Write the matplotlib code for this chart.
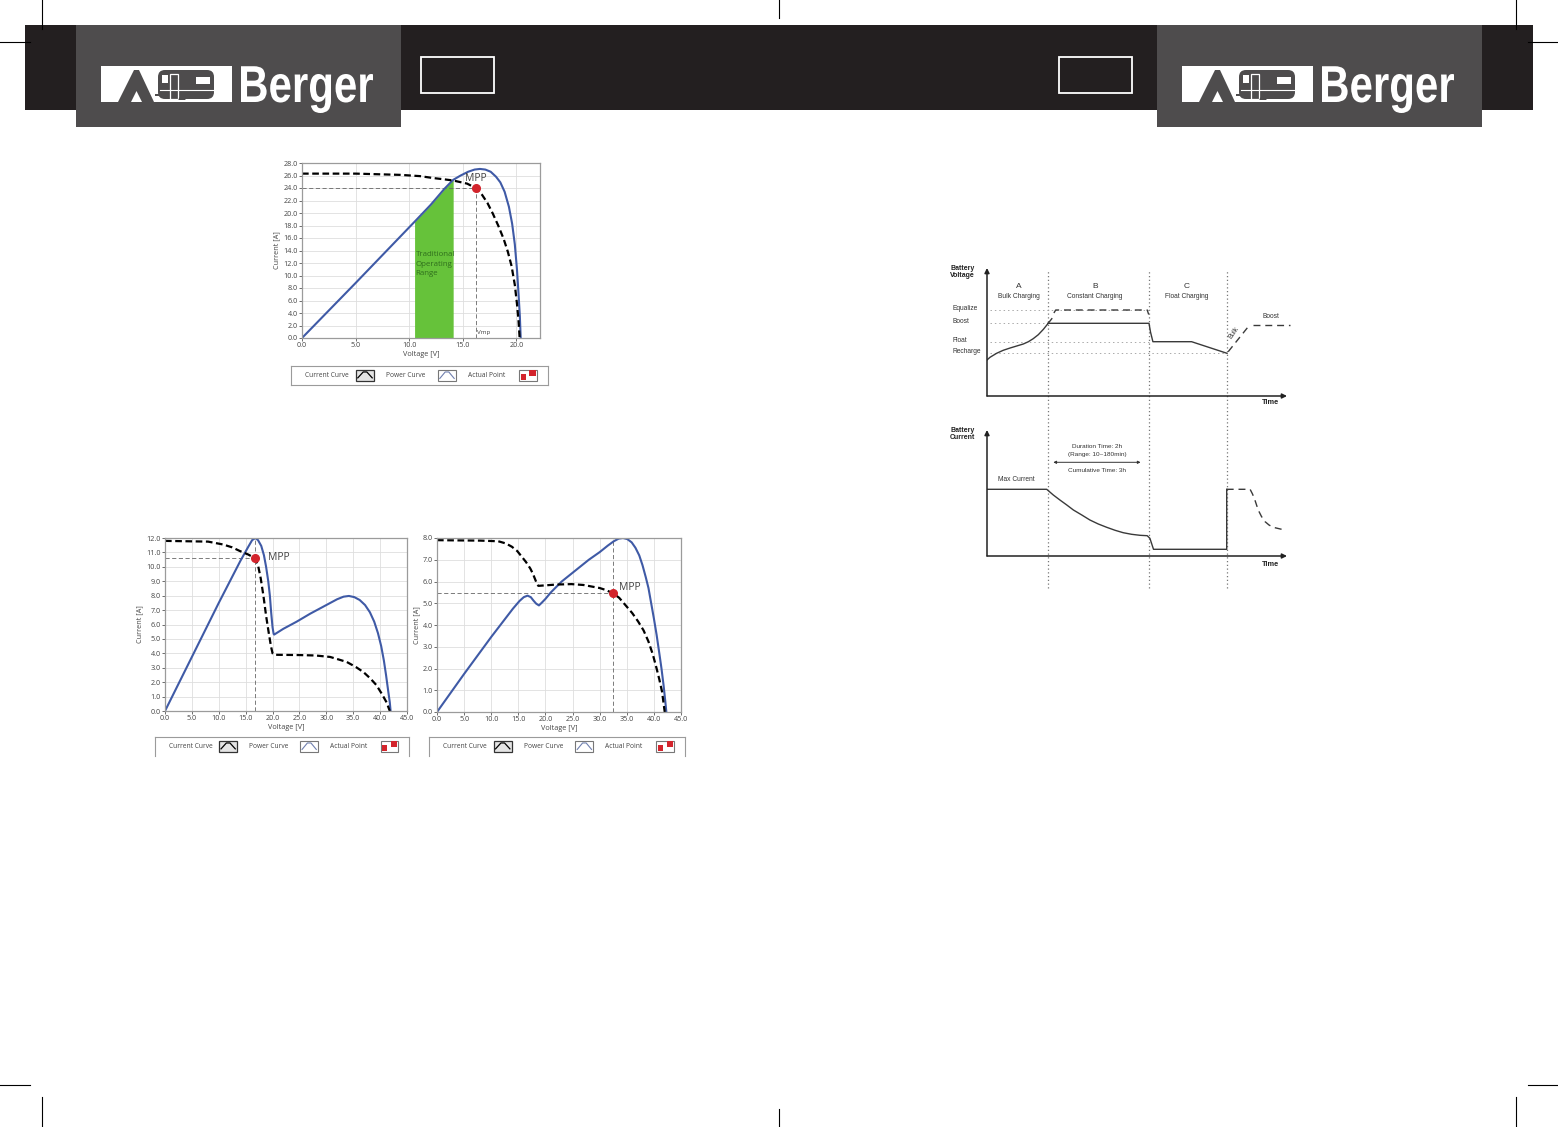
import numpy as np
import matplotlib
matplotlib.use('Agg')
import matplotlib.pyplot as plt
from matplotlib.patches import Rectangle, Polygon, FancyBboxPatch, Wedge, PathPatch
from matplotlib.textpath import TextPath
from matplotlib.font_manager import FontProperties
from matplotlib.transforms import Affine2D

W, H = 1558, 1127

DARK = '#231f20'
GREY = '#4e4c4d'
BLUE = '#3f5aa6'
RED = '#d3242c'
GREEN = '#66c23a'

plt.rcParams['font.family'] = ['Open Sans', 'DejaVu Sans']

###############################################################################
# PV curves (voltage [V], current [A])

# top chart: normal irradiance
TOP_POWER_V = [0, 5, 10.5, 12, 13.3, 14.1, 14.8, 15.5, 16.1, 16.6, 17.1, 17.6, 18.1, 18.5, 18.9, 19.3,
               19.6, 19.85, 20.05, 20.2, 20.32, 20.4]
TOP_POWER_I = [0, 8.8, 18.6, 21.3, 23.9, 25.3, 26.0, 26.6, 26.95, 27.05, 26.95, 26.6, 25.8, 24.9, 23.4,
               21.0, 18.3, 15.0, 11.0, 7.0, 3.5, 0]
TOP_CUR_V = [0, 5, 9.2, 11, 12.2, 13.2, 14.1, 15.4, 16.2, 16.8, 17.3, 17.8, 18.3, 18.8, 19.2, 19.55,
             19.85, 20.05, 20.2, 20.3]
TOP_CUR_I = [26.3, 26.3, 26.1, 25.9, 25.6, 25.4, 25.2, 24.7, 24.0, 22.9, 21.6, 19.9, 18.0, 15.9, 13.8,
             11.5, 8.5, 5.5, 2.7, 0]
TOP_MPP = (16.2, 24.0)
TRAD_RANGE = (10.5, 14.1)

# bottom left: partial shading, MPP on the first hump
BL_POWER_V = [0, 5, 10, 14, 15.5, 16.2, 16.8, 17.3, 17.9, 18.4, 18.8, 19.2, 19.5, 19.75, 20.0, 20.2,
              20.3, 22, 24.5, 27, 29, 30.5, 32, 33.2, 34.2, 35.2, 36.2, 37.2, 38.1, 38.9, 39.6, 40.2,
              40.7, 41.1, 41.5, 41.8, 41.95]
BL_POWER_I = [0, 3.75, 7.5, 10.4, 11.4, 11.85, 12.0, 11.85, 11.45, 10.8, 10.0, 9.0, 8.0, 6.8, 5.8, 5.35,
              5.3, 5.7, 6.2, 6.75, 7.15, 7.45, 7.75, 7.93, 7.98, 7.9, 7.7, 7.35, 6.85, 6.2, 5.4, 4.5,
              3.5, 2.5, 1.4, 0.6, 0]
BL_CUR_V = [0, 8, 10.8, 12.5, 13.9, 15.5, 16.7, 17.3, 17.8, 18.3, 18.8, 19.3, 19.7, 20.0, 20.3, 25, 28,
            30.7, 32.5, 33.8, 35.5, 36.9, 38.2, 39.3, 40.3, 41.2, 41.8]
BL_CUR_I = [11.8, 11.75, 11.55, 11.35, 11.1, 10.85, 10.6, 10.1, 9.2, 8.0, 6.6, 5.4, 4.5, 4.0, 3.9, 3.88,
            3.85, 3.75, 3.55, 3.4, 3.05, 2.7, 2.25, 1.8, 1.2, 0.6, 0]
BL_MPP = (16.8, 10.6)

# bottom right: partial shading, MPP on the second hump
BR_POWER_V = [0, 5, 10, 14, 15.2, 16.0, 16.7, 17.3, 17.8, 18.3, 18.8, 19.3, 20, 21, 23, 25.5, 28, 30,
              31.5, 32.6, 33.5, 34.3, 35.1, 35.9, 36.6, 37.3, 37.9, 38.5, 39.0, 39.5, 40.0, 40.5, 41.0,
              41.4, 41.8, 42.1, 42.3]
BR_POWER_I = [0, 1.75, 3.45, 4.75, 5.1, 5.28, 5.35, 5.28, 5.12, 4.98, 4.9, 5.02, 5.2, 5.5, 6.0, 6.5,
              7.0, 7.35, 7.65, 7.85, 7.97, 8.0, 7.95, 7.8, 7.55, 7.2, 6.75, 6.2, 5.7, 5.0, 4.3, 3.55,
              2.7, 2.0, 1.2, 0.5, 0]
BR_CUR_V = [0, 8, 11.3, 12.7, 13.8, 14.8, 15.6, 16.4, 17.2, 17.7, 18.1, 18.5, 18.7, 20.4, 22, 24.8, 27,
            28.5, 30, 31.0, 32.4, 33.6, 34.7, 36, 37.1, 38.1, 39.0, 39.8, 40.5, 41.0, 41.5, 42.0]
BR_CUR_I = [7.9, 7.88, 7.85, 7.75, 7.6, 7.4, 7.15, 6.9, 6.6, 6.35, 6.1, 5.85, 5.8, 5.83, 5.86, 5.88,
            5.84, 5.77, 5.7, 5.62, 5.47, 5.25, 4.93, 4.55, 4.16, 3.75, 3.24, 2.65, 2.0, 1.5, 0.94, 0]
BR_MPP = (32.4, 5.47)

LEGEND_LABELS = ['Current Curve', 'Power Curve', 'Actual Point']

###############################################################################
# charging diagram (schematic time units, schematic levels)
STAGE_T = [20.3, 54.0, 80.0]
STAGE_LETTERS = ['A', 'B', 'C']
STAGE_NAMES = ['Bulk Charging', 'Constant Charging', 'Float Charging']
STAGE_LABEL_T = [10.5, 36.0, 66.5]

LEVEL_NAMES = ['Equalize', 'Boost', 'Float', 'Recharge']
LEVEL_V = [8.6, 7.27, 5.43, 4.27]
LEVEL_END_T = [54.0, 20.3, 54.0, 80.0]

BULK_T = [0, 1.0, 3.2, 5.4, 7.7, 9.9, 12.1, 13.8, 15.4, 17.1, 18.8, 20.4, 21.6]
BULK_V = [3.6, 3.87, 4.27, 4.57, 4.8, 5.0, 5.2, 5.43, 5.73, 6.13, 6.67, 7.27, 7.73]
HOLD_T = [20.3, 54.0, 54.5, 55.3, 68.2, 80.0]
HOLD_V = [7.27, 7.27, 6.4, 5.43, 5.43, 4.27]
EQ_T = [22.3, 22.9, 53.4, 53.9]
EQ_V = [8.3, 8.6, 8.6, 8.15]
REBULK_T = [80.4, 87.0]
REBULK_V = [4.43, 6.9]
REBOOST_T = [88.7, 101.0]
REBOOST_V = [7.1, 7.1]

CUR_T = [0, 19.9, 22.1, 24.3, 26.6, 28.8, 31.6, 34.3, 37.1, 39.9, 42.7, 45.4, 48.2, 51.0, 53.4, 54.3,
         55.5, 79.9, 79.9]
CUR_I = [6.67, 6.67, 6.1, 5.6, 5.1, 4.6, 4.1, 3.6, 3.2, 2.87, 2.57, 2.33, 2.17, 2.07, 2.03, 1.77,
         0.67, 0.67, 6.67]
TAIL_T = [79.9, 87.7, 88.5, 89.3, 90.4, 91.5, 92.7, 94.0, 95.4, 98.2]
TAIL_I = [6.67, 6.67, 6.2, 5.6, 4.6, 3.95, 3.43, 3.1, 2.87, 2.67]
DURATION_T = (22.1, 51.2)

###############################################################################
fig = plt.figure(figsize=(W / 100, H / 100), dpi=100)


def px_axes(x0, y0, x1, y1):
    # pixel box on the page (top-left origin) -> figure fractions
    return fig.add_axes([x0 / W, 1 - y1 / H, (x1 - x0) / W, (y1 - y0) / H])


page = px_axes(0, 0, W, H)
page.set_xlim(0, W)
page.set_ylim(H, 0)
page.axis('off')

# header band
page.add_patch(Rectangle((25, 25), 1508, 85, color=DARK, lw=0))
for x0 in (76, 1157):
    page.add_patch(Rectangle((x0, 25), 325, 102, color=GREY, lw=0))
for x0 in (421, 1059):
    page.add_patch(Rectangle((x0, 57), 73, 36, fill=False, ec='white', lw=1.3))

# crop marks
crop = [((42, 42), (0, 29)), ((0, 30), (42, 42)), ((779, 779), (0, 18)),
        ((1516, 1516), (0, 29)), ((1528, 1558), (42, 42)),
        ((0, 30), (1085, 1085)), ((42, 42), (1097, 1127)), ((779, 779), (1109, 1127)),
        ((1516, 1516), (1097, 1127)), ((1528, 1558), (1085, 1085))]
for xs, ys in crop:
    page.plot(xs, ys, color='black', lw=0.8)

brand = TextPath((0, 0), 'Berger', size=52, prop=FontProperties(family='Liberation Sans', weight='bold'))
brand_ext = brand.get_extents()


def logo(x0):
    y0 = 66
    page.add_patch(Rectangle((x0, y0), 131, 36, color='white', lw=0))
    # tent
    page.add_patch(Polygon([(x0 + 17, y0 + 36), (x0 + 33, y0 + 4), (x0 + 38, y0 + 4), (x0 + 53, y0 + 36)],
                           color=GREY, lw=0))
    page.add_patch(Polygon([(x0 + 30, y0 + 36), (x0 + 35.5, y0 + 25), (x0 + 41, y0 + 36)], color='white', lw=0))
    # caravan
    page.add_patch(FancyBboxPatch((x0 + 57, y0 + 4), 56, 29, boxstyle='round,pad=0,rounding_size=7',
                                  color=GREY, lw=0))
    page.add_patch(Rectangle((x0 + 54, y0 + 28), 4, 2, color=GREY, lw=0))
    for rx, ry, rw, rh in [(61, 9, 6, 8), (95, 11, 14, 7)]:
        page.add_patch(Rectangle((x0 + rx, y0 + ry), rw, rh, color='white', lw=0))
    page.add_patch(Rectangle((x0 + 69.5, y0 + 7.5), 7.5, 25, fill=False, ec='white', lw=0.9))
    page.plot([x0 + 59, x0 + 112], [y0 + 24, y0 + 24], color='white', lw=0.8)
    page.add_patch(Wedge((x0 + 81, y0 + 34), 3.5, 180, 360, color=GREY, lw=0))
    # condensed brand lettering
    sx = 132 / brand_ext.width
    tr = Affine2D().scale(sx, -1).translate(x0 + 140 - brand_ext.x0 * sx, y0 + 36) + page.transData
    page.add_patch(PathPatch(brand, transform=tr, color='white', lw=0))


logo(101)
logo(1182)


###############################################################################
def pv_chart(box, xmax, ymax, ystep, power, current, mpp, full_guide, mpp_xy):
    ax = px_axes(*box)
    ax.set_xlim(0, xmax)
    ax.set_ylim(0, ymax)
    ax.set_xticks(np.arange(0, xmax + 0.01, 5))
    ax.set_yticks(np.arange(0, ymax + 0.01, ystep))
    ax.xaxis.set_major_formatter('{x:.1f}')
    ax.yaxis.set_major_formatter('{x:.1f}')
    ax.tick_params(labelsize=5.2, length=2, width=0.6, pad=1, colors='#555', labelcolor='#444')
    ax.grid(color='#dedede', lw=0.6)
    ax.set_axisbelow(True)
    for s in ax.spines.values():
        s.set_color('#9b9b9b')
        s.set_linewidth(0.9)
    ax.set_xlabel('Voltage [V]', fontsize=5.2, color='#444', labelpad=1)
    ax.set_ylabel('Current [A]', fontsize=5.2, color='#444', labelpad=2)

    v, i = mpp
    ax.plot([0, v], [i, i], color='#666', lw=0.6, ls=(0, (5, 3)))
    ax.plot([v, v], [0, ymax if full_guide else i], color='#666', lw=0.6, ls=(0, (5, 3)))
    ax.plot(power[0], power[1], color=BLUE, lw=1.5, solid_joinstyle='round')
    ax.plot(current[0], current[1], color='black', lw=1.6, ls=(0, (3, 1.6)))
    ax.plot([v], [i], 'o', color=RED, ms=5.5, mec=RED)
    ax.text(mpp_xy[0], mpp_xy[1], 'MPP', fontsize=7.5, color='#444', ha='left', va='center')
    return ax


def pv_legend(box, closed):
    ax = px_axes(*box)
    ax.set_xlim(0, 1)
    ax.set_ylim(0, 1)
    ax.set_xticks([])
    ax.set_yticks([])
    for s in ax.spines.values():
        s.set_color('#9b9b9b')
        s.set_linewidth(0.8)
    if not closed:
        ax.spines['bottom'].set_visible(False)
    for x, label in zip([0.054, 0.37, 0.689], LEGEND_LABELS):
        ax.text(x, 0.5, label, fontsize=4.8, color='#444', va='center', ha='left')
    iw, ih, iy = 0.07, 0.62, 0.19
    # current curve icon
    ax.add_patch(Rectangle((0.253, iy), iw, ih, fc='#e4e4e4', ec='#333', lw=0.9))
    ax.plot(0.253 + iw * np.array([0.1, 0.4, 0.6, 0.9]), iy + ih * np.array([0.3, 0.8, 0.8, 0.3]),
            color='black', lw=0.9)
    # power curve icon
    ax.add_patch(Rectangle((0.572, iy), iw, ih, fc='white', ec='#777', lw=0.8))
    ax.plot(0.572 + iw * np.array([0.1, 0.4, 0.6, 0.9]), iy + ih * np.array([0.25, 0.8, 0.8, 0.25]),
            color='#6f7fae', lw=0.8)
    # actual point icon
    ax.add_patch(Rectangle((0.888, iy), iw, ih, fc='white', ec='#777', lw=0.8))
    ax.add_patch(Rectangle((0.893, iy + 0.08), 0.02, 0.3, color=RED, lw=0))
    ax.add_patch(Rectangle((0.928, iy + 0.3), 0.025, 0.3, color=RED, lw=0))
    return ax


top = pv_chart((302, 163, 540, 338), 22.2, 28, 2, (TOP_POWER_V, TOP_POWER_I),
               (TOP_CUR_V, TOP_CUR_I), TOP_MPP, False, (15.2, 25.5))
pv_arr_v = np.array(TOP_POWER_V)
in_range = (pv_arr_v >= TRAD_RANGE[0]) & (pv_arr_v <= TRAD_RANGE[1])
top.fill_between(TOP_POWER_V, 0, TOP_POWER_I, where=in_range, color=GREEN, lw=0, zorder=1.5)
top.text(TRAD_RANGE[0] + 0.1, 11.8, 'Traditional\nOperating\nRange', fontsize=5.7, color='#2f6e1c',
         ha='left', va='center', linespacing=1.45)
top.text(TOP_MPP[0] + 0.15, 0.5, 'Vmp', fontsize=4.5, color='#444', ha='left', va='bottom')
pv_legend((291, 366, 548, 385), True)

pv_chart((165, 538, 407, 711), 45, 12, 1, (BL_POWER_V, BL_POWER_I),
         (BL_CUR_V, BL_CUR_I), BL_MPP, True, (19.1, 10.65))
pv_legend((155, 737, 409, 756), False)

pv_chart((437, 538, 681, 712), 45, 8, 1, (BR_POWER_V, BR_POWER_I),
         (BR_CUR_V, BR_CUR_I), BR_MPP, True, (33.6, 5.72))
pv_legend((429, 737, 685, 756), False)

###############################################################################
# charging stages diagram
FONT_D = ['Liberation Sans', 'DejaVu Sans']
arrow = dict(arrowstyle='-|>', color='#222', lw=1.1, mutation_scale=7, shrinkA=0, shrinkB=0)

vax = px_axes(987, 268, 1287, 396)
vax.set_xlim(0, 100)
vax.set_ylim(0, 12.8)
vax.axis('off')
vax.annotate('', xy=(0, 12.8), xytext=(0, 0), arrowprops=arrow, annotation_clip=False)
vax.annotate('', xy=(100, 0), xytext=(0, 0), arrowprops=arrow, annotation_clip=False)

for t in STAGE_T:
    vax.plot([t, t], [-1.5, 0.985], transform=vax.get_xaxis_transform(), clip_on=False,
             color='#777', lw=0.9, ls=(0, (1, 2)))
for name, lv, t_end in zip(LEVEL_NAMES, LEVEL_V, LEVEL_END_T):
    vax.plot([1, t_end], [lv, lv], color='#aaaaaa', lw=0.7, ls=(0, (1.5, 3)))
    vax.text(-11.4, lv + 0.15, name, fontsize=4.8, color='#333', ha='left', va='center', family=FONT_D)
for t, letter, name in zip(STAGE_LABEL_T, STAGE_LETTERS, STAGE_NAMES):
    vax.text(t, 10.9, letter, fontsize=6, color='#333', ha='center', va='center', family=FONT_D)
    vax.text(t, 9.9, name, fontsize=4.8, color='#333', ha='center', va='center', family=FONT_D)

vax.plot(BULK_T, BULK_V, color='#3a3a3a', lw=1.0)
vax.plot(HOLD_T, HOLD_V, color='#3a3a3a', lw=1.0)
vax.plot(EQ_T, EQ_V, color='#3a3a3a', lw=1.0, ls=(0, (5, 3.5)))
vax.plot(REBULK_T, REBULK_V, color='#3a3a3a', lw=1.0, ls=(0, (5, 3.5)), clip_on=False)
vax.plot(REBOOST_T, REBOOST_V, color='#3a3a3a', lw=1.0, ls=(0, (5, 3.5)), clip_on=False)
vax.text(82.2, 6.3, 'Bulk', fontsize=4.8, color='#333', rotation=55, ha='center', va='center', family=FONT_D)
vax.text(94.6, 7.9, 'Boost', fontsize=4.8, color='#333', ha='center', va='center', family=FONT_D)
vax.text(-12.3, 13.1, 'Battery\nVoltage', fontsize=5, fontweight='bold', color='#222', ha='left',
         va='top', linespacing=1.0, family=FONT_D)
vax.text(94.5, -0.7, 'Time', fontsize=5.3, fontweight='bold', color='#222', ha='center', va='center',
         family=FONT_D)

cax = px_axes(987, 430, 1287, 556)
cax.set_xlim(0, 100)
cax.set_ylim(0, 12.6)
cax.axis('off')
cax.annotate('', xy=(0, 12.6), xytext=(0, 0), arrowprops=arrow, annotation_clip=False)
cax.annotate('', xy=(100, 0), xytext=(0, 0), arrowprops=arrow, annotation_clip=False)
cax.plot(CUR_T, CUR_I, color='#3a3a3a', lw=1.0)
cax.plot(TAIL_T, TAIL_I, color='#3a3a3a', lw=1.0, ls=(0, (5, 3.5)))
cax.annotate('', xy=(DURATION_T[1], 9.37), xytext=(DURATION_T[0], 9.37),
             arrowprops=dict(arrowstyle='<|-|>', color='#333', lw=0.7, mutation_scale=4,
                             shrinkA=0, shrinkB=0))
mid = sum(DURATION_T) / 2
cax.text(mid, 11.0, 'Duration Time: 2h', fontsize=4.6, color='#333', ha='center', va='center', family=FONT_D)
cax.text(mid, 10.15, '(Range: 10~180min)', fontsize=4.6, color='#333', ha='center', va='center',
         family=FONT_D)
cax.text(mid, 8.6, 'Cumulative Time: 3h', fontsize=4.6, color='#333', ha='center', va='center', family=FONT_D)
cax.text(9.7, 7.7, 'Max Current', fontsize=4.8, color='#333', ha='center', va='center', family=FONT_D)
cax.text(-12.3, 12.9, 'Battery\nCurrent', fontsize=5, fontweight='bold', color='#222', ha='left',
         va='top', linespacing=1.0, family=FONT_D)
cax.text(94.5, -0.8, 'Time', fontsize=5.3, fontweight='bold', color='#222', ha='center', va='center',
         family=FONT_D)

fig.savefig('out.png', dpi=100)
